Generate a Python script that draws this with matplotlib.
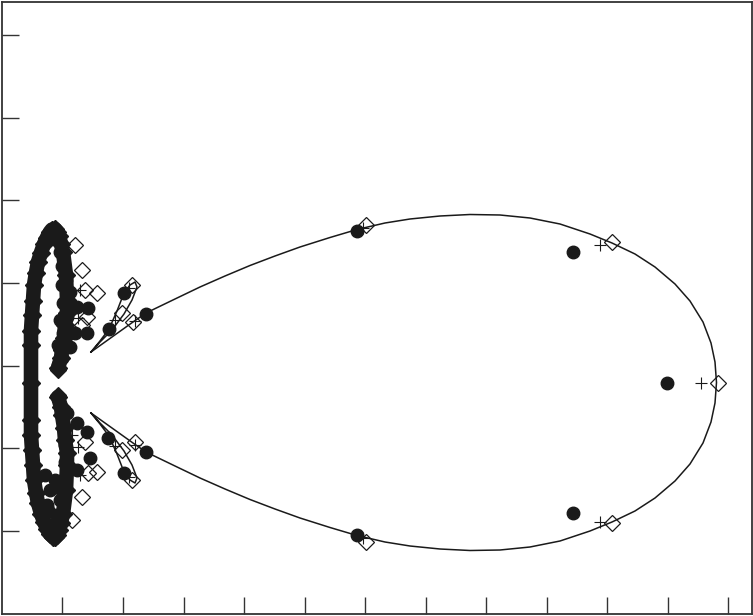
import numpy as np
import matplotlib
matplotlib.use('Agg')
import matplotlib.pyplot as plt

# ── Data (units relative to the pattern origin) ───────────────
# main lobe, upper apex -> tip -> lower apex
lobe_x = [26, 68, 81, 110, 135, 160, 185, 210, 235, 265, 292, 320, 345, 375, 405, 435, 465, 495, 525, 547,
          570, 590, 610, 625, 638, 646, 650, 651.5,
          650, 646, 638, 625, 610, 590, 570, 547, 525, 495, 465, 435, 405, 375, 345, 320, 292, 265, 235,
          210, 185, 160, 135, 110, 81, 68, 26]
lobe_y = [30.5, 60.5, 69.5, 83.5, 95.5, 106.5, 117, 126.5, 135.5, 145, 153, 159.5, 163.5, 166.5, 168, 167.5,
          164.5, 158.5, 148.5, 139.5, 128.5, 115.5, 98.5, 81.5, 60.5, 39.5, 20.5, 0,
          -20.5, -39.5, -60.5, -81.5, -98.5, -115.5, -128.5, -139.5, -148.5, -158.5, -164.5, -167.5, -168,
          -166.5, -163.5, -159.5, -153, -145, -135.5, -126.5, -117, -106.5, -95.5, -83.5, -69.5, -60.5, -30.5]

# small side lobes
side_up_x = [26, 35, 44, 52, 59, 65, 70, 72, 67, 59, 47, 35, 26]
side_up_y = [30.5, 41.5, 53.5, 71.5, 89.5, 97.5, 100.5, 95.5, 82.5, 68.5, 52.5, 40.5, 30.5]
side_lo_x = [26, 35, 44, 52, 59, 65, 70, 72, 67, 59, 47, 35, 26]
side_lo_y = [-30.5, -41.5, -53.5, -71.5, -89.5, -97.5, -100.5, -95.5, -82.5, -68.5, -52.5, -40.5, -30.5]

# dense back region
ring_x = [-7, -4, -3, -1, 0, 2, 2, 1, -2, -4, -6, -8, -10, -13, -15, -18, -21, -24, -27, -29, -31, -32, -33,
          -34, -34, -34, -34, -34, -33, -32, -31, -29, -27, -24, -21, -18, -15, -12, -10, -8, -6, -4, -2, 1,
          2, 2, 0, -1, -3, -4, -7]
ring_y = [14.5, 24.5, 32.5, 45, 57.5, 70, 82.5, 107.5, 130.5, 139, 146.5, 151, 153.5, 153, 150.5, 145,
          138.5, 130, 120.5, 110, 97.5, 82, 67.5, 52, 37.5, 0, -37.5, -52, -67.5, -82, -97.5, -110, -120.5,
          -131, -139.5, -146, -151.5, -154, -154.5, -152, -147.5, -140, -131.5, -107.5, -82.5, -70, -57.5,
          -45, -32.5, -24.5, -14.5]

# measured points (filled circles)
circ_x = [602, 508, 508, 292, 292, 81, 81, 59, 44, 59, 43,
          -3, -2, 2, 12, 23, -2, 10, 22, 5, -7,
          -7, 2, 0, 12, 22, 0, 25, 0, 12, -2,
          -8, -5, -3, 1, 5, -5, -7, -3,
          -15, -9, -5, -17, -20, -6,
          -20, -15, -18, -10]
circ_y = [0, 130.5, -130.5, 151.5, -152.5, 68.5, -69.5, 89.5, 53.5, -90.5, -55.5,
          97.5, 79.5, 65.5, 75.5, 74.5, 49.5, 49.5, 49.5, 35.5, 17.5,
          -15.5, -30.5, -45.5, -40.5, -49.5, -62.5, -75.5, -79.5, -87.5, -97.5,
          144.5, 130.5, 116.5, 102.5, 90.5, 62.5, 37.5, 24.5,
          -142.5, -132.5, -117.5, -127.5, -140, -105,
          -92.5, -107.5, -122.5, -97.5]

# plus markers
plus_x = [636, 535, 535, 298, 298, 70, 70, 64, 50, 64, 50, 15, 13, 7, 15, 13, 7]
plus_y = [0, 137.5, -139.5, 154.5, -155.5, 62, -62, 94.5, 62.5, -94.5, -63, 92.5, 64.5, 52.5, -92.5, -64.5, -52.5]

# open diamonds
diam_x = [653, 547, 547, 301, 301, 68, 70, 67, 57, 67, 57,
          10, 17, 20, 32, 22, 17, -7,
          -7, 20, 32, 23, 17, 7]
diam_y = [0, 140.5, -140.5, 157.5, -159.5, 60.5, -59.5, 97.5, 69.5, -97.5, -67.5,
          137.5, 112.5, 92.5, 89.5, 65.5, 57.5, 12.5,
          -12.5, -59.5, -89.5, -90.5, -114.5, -137.5]

x_ticks = [-2.5 + 60.5 * k for k in range(12)]
y_ticks = [347.5, 264.8, 182.2, 99.5, 16.8, -65.8, -148.5]

# ── Figure ────────────────────────────────────────────────────
fig = plt.figure(figsize=(7.53, 6.16), dpi=100)
ax = fig.add_axes([2 / 753, 2 / 616, 750 / 753, 612.5 / 616])

ink = '#1a1a1a'
ax.plot(ring_x, ring_y, color=ink, lw=10.5, solid_joinstyle='round', solid_capstyle='round', zorder=2)
ax.plot(ring_x, ring_y, 'D', ms=9, mfc=ink, mec=ink, zorder=3)

ax.plot(lobe_x, lobe_y, color=ink, lw=1.1, zorder=2)
ax.plot(side_up_x, side_up_y, color=ink, lw=1.1, zorder=2)
ax.plot(side_lo_x, side_lo_y, color=ink, lw=1.1, zorder=2)

ax.plot(circ_x, circ_y, 'o', ms=9, color=ink, zorder=4)
ax.plot(plus_x, plus_y, '+', ms=9, mew=0.8, color=ink, zorder=5)
ax.plot(diam_x, diam_y, 'D', ms=8, mfc='none', mec=ink, mew=0.9, zorder=5)

ax.set_xlim(-63, 687)
ax.set_ylim(-231.5, 381)
ax.set_xticks(x_ticks)
ax.set_yticks(y_ticks)
ax.set_xticklabels([])
ax.set_yticklabels([])
ax.tick_params(direction='in', length=12, width=1, color='#333333')
for s in ax.spines.values():
    s.set_linewidth(1.3)
    s.set_color('#333333')

plt.savefig('out.png', dpi=100)
